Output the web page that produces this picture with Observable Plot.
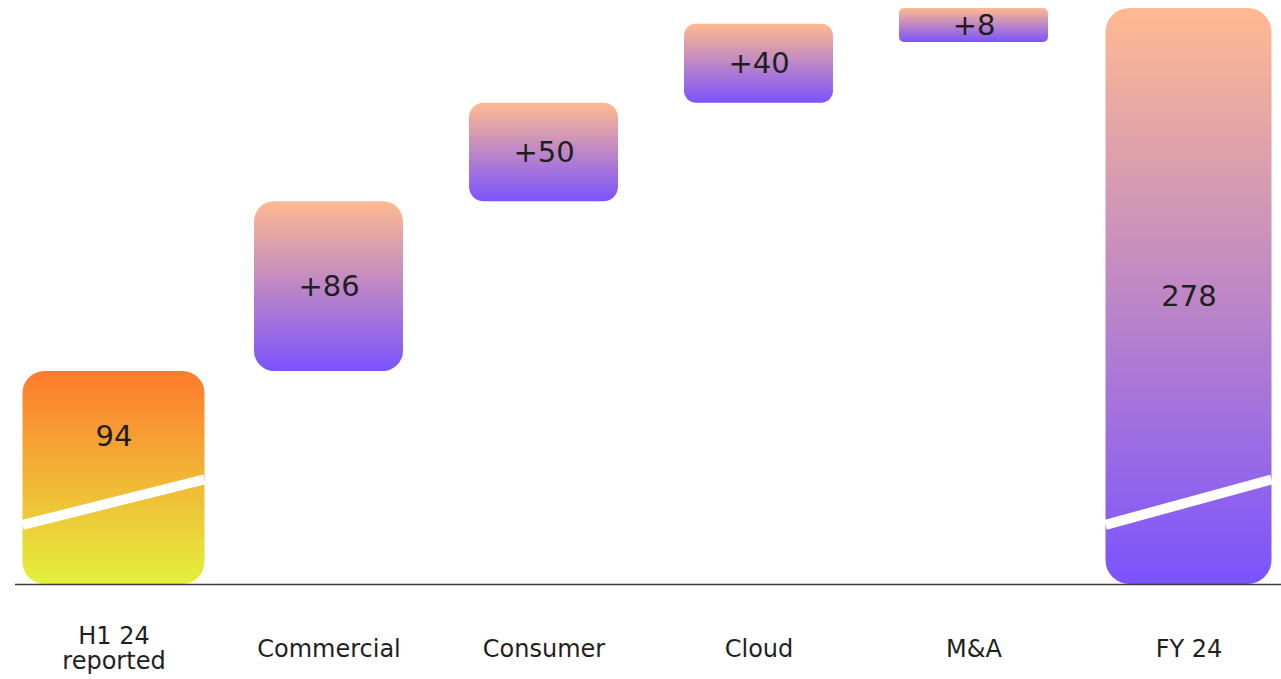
<!DOCTYPE html>
<html>
<head>
<meta charset="utf-8">
<script src="https://cdn.jsdelivr.net/npm/d3@7"></script>
<script src="https://cdn.jsdelivr.net/npm/@observablehq/plot@0.6"></script>
<style>
  html, body { margin: 0; padding: 0; background: #fff; }
</style>
</head>
<body>
<div id="chart"></div>
<script>
// Revenue bridge, H1 24 reported to FY 24
const categories = ["H1 24 reported", "Commercial", "Consumer", "Cloud", "M&A", "FY 24"];
const tickLabels = ["H1 24\nreported", "Commercial", "Consumer", "Cloud", "M&A", "FY 24"];
const openingValue = 94;
const stepValues = [86, 50, 40, 8];
const closingValue = 278;

// The value axis is broken: total bars rise from this floor, and a white
// stripe crosses them between these two values (left edge, right edge).
const yFloor = -14;
const breakAt = [16, 39];

// Bar rows: the two totals stand on the floor, each step floats on the running sum
const openingRow = {cat: categories[0], y1: yFloor, y2: openingValue, label: String(openingValue)};
const stepRows = [];
let running = openingValue;
stepValues.forEach((v, i) => {
  stepRows.push({cat: categories[i + 1], y1: running, y2: running + v, label: "+" + v});
  running += v;
});
const closingRow = {cat: categories[categories.length - 1], y1: yFloor, y2: closingValue, label: String(closingValue)};

const openingInset = -16.5;
const closingInset = -8.5;
const minStepHeight = 34;   // a floating bar is never shorter than its label needs
const textColor = "#1f1f1f";
const valueFontSize = 29;

const plot = Plot.plot({
  width: 1281,
  height: 679,
  marginTop: 8,
  marginBottom: 95,
  marginLeft: 15,
  marginRight: 0,
  style: {fontFamily: "DejaVu Sans, Verdana, sans-serif", background: "#fff"},
  x: {domain: categories, range: [15, 1288], paddingInner: 0.305, paddingOuter: 0.102, axis: null},
  y: {domain: [yFloor, closingValue], axis: null},
  marks: [
    Plot.barY([openingRow], {x: "cat", y1: "y1", y2: "y2", fill: "url(#gradOpening)",
      insetLeft: openingInset, insetRight: openingInset, rx: 22}),
    Plot.barY(stepRows, {x: "cat", y1: "y1", y2: "y2", fill: "url(#gradStep)"}),
    Plot.barY([closingRow], {x: "cat", y1: "y1", y2: "y2", fill: "url(#gradStep)",
      insetLeft: closingInset, insetRight: closingInset, rx: 24}),
    // value labels
    Plot.text([openingRow], {x: "cat", y: d => ((breakAt[0] + breakAt[1]) / 2 + d.y2) / 2,
      text: "label", fontSize: valueFontSize, fill: textColor}),
    Plot.text(stepRows, {x: "cat", y: d => (d.y1 + d.y2) / 2, text: "label", fontSize: valueFontSize, fill: textColor}),
    Plot.text([closingRow], {x: "cat", y: d => (d.y1 + d.y2) / 2, text: "label", fontSize: valueFontSize, fill: textColor}),
    // category labels under the baseline
    Plot.text(categories, {x: d => d, text: (d, i) => tickLabels[i], frameAnchor: "bottom",
      dy: 64, lineAnchor: "middle", lineHeight: 1.05, fontSize: 24, fill: textColor}),
    Plot.ruleY([yFloor], {stroke: "#3a3a3a", strokeWidth: 1.3})
  ]
});

const svgNS = "http://www.w3.org/2000/svg";

// Vertical gradients shared by the bars
const defs = document.createElementNS(svgNS, "defs");
function addGradient(id, stops) {
  const g = document.createElementNS(svgNS, "linearGradient");
  g.setAttribute("id", id);
  g.setAttribute("x1", "0"); g.setAttribute("y1", "0");
  g.setAttribute("x2", "0"); g.setAttribute("y2", "1");
  stops.forEach(([offset, color]) => {
    const s = document.createElementNS(svgNS, "stop");
    s.setAttribute("offset", offset);
    s.setAttribute("stop-color", color);
    g.appendChild(s);
  });
  defs.appendChild(g);
}
addGradient("gradOpening", [[0, "#ff7a2e"], [1, "#e4f03c"]]);
addGradient("gradStep", [[0, "#ffba90"], [1, "#7b53fd"]]);
plot.insertBefore(defs, plot.firstChild);

// Floating bars: grow short ones downward to the minimum height (keeping
// their top on the running total, label re-centred) and round corners by height
const barGroups = plot.querySelectorAll('g[aria-label="bar"]');
const textGroups = plot.querySelectorAll('g[aria-label="text"]');
const stepTexts = textGroups[1].querySelectorAll("text");
barGroups[1].querySelectorAll("rect").forEach((r, i) => {
  let h = +r.getAttribute("height");
  if (h < minStepHeight) {
    const grow = minStepHeight - h;
    h = minStepHeight;
    r.setAttribute("height", h);
    const t = stepTexts[i];
    const tf = t.getAttribute("transform") || "";
    const m = tf.match(/translate\(([^,\s]+)[,\s]+([^)]+)\)/);
    if (m) t.setAttribute("transform", `translate(${m[1]},${+m[2] + grow / 2})`);
    else if (t.hasAttribute("y")) t.setAttribute("y", +t.getAttribute("y") + grow / 2);
  }
  r.setAttribute("rx", Math.max(5, Math.min(20, 0.15 * h)));
});

// White break stripes across the two totals, placed through the plot's scales
const xs = plot.scale("x"), ys = plot.scale("y");
const stripeLayer = document.createElementNS(svgNS, "g");
[[openingRow, openingInset], [closingRow, closingInset]].forEach(([row, inset]) => {
  const left = xs.apply(row.cat) + inset;
  const right = xs.apply(row.cat) + xs.bandwidth - inset;
  const line = document.createElementNS(svgNS, "line");
  line.setAttribute("x1", left);
  line.setAttribute("x2", right);
  line.setAttribute("y1", ys.apply(breakAt[0]));
  line.setAttribute("y2", ys.apply(breakAt[1]));
  line.setAttribute("stroke", "#fff");
  line.setAttribute("stroke-width", 10);
  stripeLayer.appendChild(line);
});
barGroups[2].after(stripeLayer);

document.getElementById("chart").appendChild(plot);
</script>
</body>
</html>
